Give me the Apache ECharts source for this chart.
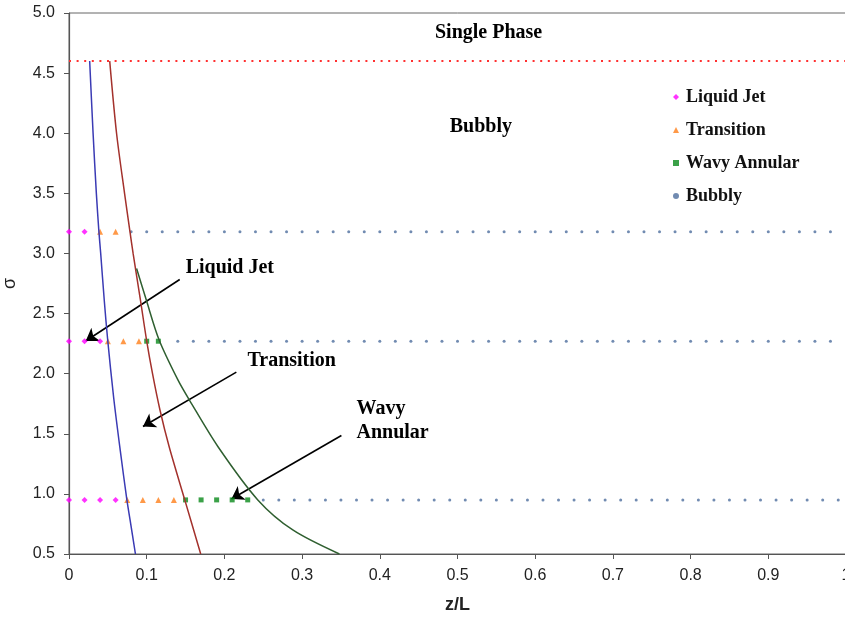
<!DOCTYPE html>
<html>
<head>
<meta charset="utf-8">
<script src="https://cdn.jsdelivr.net/npm/echarts@6/dist/echarts.min.js"></script>
<style>
  html, body { margin: 0; padding: 0; background: #fff; }
  #chart { width: 845px; height: 622px; }
</style>
</head>
<body>
<div id="chart"></div>
<script>
// boundary curves, [z/L, sigma]
const blueCurve = [[0.0266, 4.6], [0.031, 4.0], [0.0352, 3.5], [0.0385, 3.18], [0.0408, 3.0], [0.0455, 2.6], [0.0498, 2.28], [0.0575, 1.8], [0.066, 1.36], [0.0745, 0.95], [0.0787, 0.78], [0.0855, 0.5]]
const redCurve = [[0.0524, 4.6], [0.0612, 4.0], [0.0715, 3.5], [0.0785, 3.18], [0.0825, 3.0], [0.092, 2.61], [0.0998, 2.28], [0.1075, 2.0], [0.117, 1.7], [0.129, 1.39], [0.149, 0.95], [0.1695, 0.5]]
const greenCurve = [[0.087, 2.875], [0.0996, 2.61], [0.116, 2.28], [0.14, 1.95], [0.155, 1.78], [0.192, 1.39], [0.243, 0.95], [0.288, 0.70], [0.348, 0.5]]
const singlePhaseLine = [[0, 4.6], [1, 4.6]]

// observed regimes, [z/L, sigma]
const liquidJet = [[0, 3.18], [0.02, 3.18], [0, 2.27], [0.02, 2.27], [0.04, 2.27], [0, 0.95], [0.02, 0.95], [0.04, 0.95], [0.06, 0.95]]
const transition = [[0.04, 3.18], [0.06, 3.18], [0.05, 2.27], [0.07, 2.27], [0.09, 2.27], [0.075, 0.95], [0.095, 0.95], [0.115, 0.95], [0.135, 0.95]]
const wavyAnnular = [[0.10, 2.27], [0.115, 2.27], [0.15, 0.95], [0.17, 0.95], [0.19, 0.95], [0.21, 0.95], [0.23, 0.95]]
const bubblyX318 = [0.08, 0.10, 0.12, 0.14, 0.16, 0.18, 0.20, 0.22, 0.24, 0.26, 0.28, 0.30, 0.32, 0.34, 0.36, 0.38, 0.40, 0.42, 0.44, 0.46, 0.48, 0.50, 0.52, 0.54, 0.56, 0.58, 0.60, 0.62, 0.64, 0.66, 0.68, 0.70, 0.72, 0.74, 0.76, 0.78, 0.80, 0.82, 0.84, 0.86, 0.88, 0.90, 0.92, 0.94, 0.96, 0.98]
const bubblyX227 = [0.14, 0.16, 0.18, 0.20, 0.22, 0.24, 0.26, 0.28, 0.30, 0.32, 0.34, 0.36, 0.38, 0.40, 0.42, 0.44, 0.46, 0.48, 0.50, 0.52, 0.54, 0.56, 0.58, 0.60, 0.62, 0.64, 0.66, 0.68, 0.70, 0.72, 0.74, 0.76, 0.78, 0.80, 0.82, 0.84, 0.86, 0.88, 0.90, 0.92, 0.94, 0.96, 0.98]
const bubblyX095 = [0.25, 0.27, 0.29, 0.31, 0.33, 0.35, 0.37, 0.39, 0.41, 0.43, 0.45, 0.47, 0.49, 0.51, 0.53, 0.55, 0.57, 0.59, 0.61, 0.63, 0.65, 0.67, 0.69, 0.71, 0.73, 0.75, 0.77, 0.79, 0.81, 0.83, 0.85, 0.87, 0.89, 0.91, 0.93, 0.95, 0.97, 0.99]
const bubbly = bubblyX318.map(x => [x, 3.18])
  .concat(bubblyX227.map(x => [x, 2.27]))
  .concat(bubblyX095.map(x => [x, 0.95]))

// region notes and arrows
const noteText = ['Single Phase', 'Bubbly', 'Liquid Jet', 'Transition', 'Wavy', 'Annular']
const noteAt = [[0.540, 4.836], [0.530, 4.052], [0.207, 2.878], [0.2866, 2.104], [0.370, 1.711], [0.370, 1.511]]
const noteAlign = ['center', 'center', 'center', 'center', 'left', 'left']
const arrows = [
  [[0.1425, 2.783], [0.0215, 2.272]],
  [[0.2154, 2.013], [0.0952, 1.561]],
  [[0.3506, 1.486], [0.209, 0.958]]
]

const serif = '"Liberation Serif", "Times New Roman", serif'
const sans = '"Liberation Sans", Arial, sans-serif'

let myChart = echarts.init(document.getElementById('chart'))
myChart.setOption({
  animation: false,
  backgroundColor: '#fff',
  grid: {
    left: 69,
    top: 13,
    right: -1,
    bottom: 68,
    outerBoundsMode: 'none',
    containLabel: false,
    show: true,
    borderColor: '#666',
    borderWidth: 1
  },
  legend: {
    data: ['Liquid Jet', 'Transition', 'Wavy Annular', 'Bubbly'],
    orient: 'vertical',
    left: 668,
    top: 83,
    itemGap: 15,
    itemWidth: 6,
    itemHeight: 6,
    textStyle: {
      fontFamily: serif,
      fontWeight: 'bold',
      fontSize: 18,
      lineHeight: 18,
      padding: [0, 0, 0, 2],
      color: '#111'
    }
  },
  xAxis: {
    type: 'value',
    min: 0,
    max: 1,
    interval: 0.1,
    name: 'z/L',
    nameLocation: 'middle',
    nameGap: 42,
    nameTextStyle: { fontFamily: sans, fontWeight: 'bold', fontSize: 18, color: '#222' },
    axisLine: { lineStyle: { color: '#555', width: 1.2 } },
    axisTick: { show: true, length: 5, lineStyle: { color: '#555' } },
    axisLabel: { fontFamily: sans, fontSize: 16, color: '#222', margin: 14 },
    splitLine: { show: false }
  },
  yAxis: {
    type: 'value',
    min: 0.5,
    max: 5,
    interval: 0.5,
    name: 'σ',
    nameLocation: 'middle',
    nameGap: 50,
    nameTextStyle: { fontFamily: sans, fontSize: 18, color: '#222' },
    axisLine: { show: true, lineStyle: { color: '#555', width: 1.2 } },
    axisTick: { show: true, length: 5, lineStyle: { color: '#555' } },
    axisLabel: {
      fontFamily: sans,
      fontSize: 16,
      color: '#222',
      margin: 14,
      formatter: v => v.toFixed(1)
    },
    splitLine: { show: false }
  },
  series: [
    {
      name: 'Single Phase boundary',
      type: 'line',
      data: singlePhaseLine,
      showSymbol: false,
      silent: true,
      lineStyle: { color: '#ff3030', width: 2, type: [2, 5.6] }
    },
    {
      name: 'Liquid Jet limit',
      type: 'line',
      data: blueCurve,
      smooth: 0.3,
      showSymbol: false,
      silent: true,
      lineStyle: { color: '#3a3ab4', width: 1.5 }
    },
    {
      name: 'Transition limit',
      type: 'line',
      data: redCurve,
      smooth: 0.3,
      showSymbol: false,
      silent: true,
      lineStyle: { color: '#a3312c', width: 1.5 }
    },
    {
      name: 'Wavy Annular limit',
      type: 'line',
      data: greenCurve,
      smooth: 0.3,
      showSymbol: false,
      silent: true,
      lineStyle: { color: '#2f5f30', width: 1.5 }
    },
    {
      name: 'Bubbly',
      type: 'scatter',
      data: bubbly,
      symbol: 'circle',
      symbolSize: 3,
      itemStyle: { color: '#4d6e9e' }
    },
    {
      name: 'Liquid Jet',
      type: 'scatter',
      data: liquidJet,
      symbol: 'diamond',
      symbolSize: 6,
      itemStyle: { color: '#ff00ff' }
    },
    {
      name: 'Transition',
      type: 'scatter',
      data: transition,
      symbol: 'triangle',
      symbolSize: 6,
      itemStyle: { color: '#ff7f1a' }
    },
    {
      name: 'Wavy Annular',
      type: 'scatter',
      data: wavyAnnular,
      symbol: 'rect',
      symbolSize: 5,
      itemStyle: { color: '#0a8a1a' }
    },
    {
      name: 'arrows',
      type: 'lines',
      coordinateSystem: 'cartesian2d',
      silent: true,
      symbol: ['none', 'arrow'],
      symbolSize: 12,
      lineStyle: { color: '#000', width: 1.6, opacity: 1 },
      data: arrows.map(c => ({ coords: c }))
    },
    {
      name: 'notes',
      type: 'custom',
      silent: true,
      data: noteAt,
      renderItem: (params, api) => {
        const p = api.coord([api.value(0), api.value(1)])
        return {
          type: 'text',
          x: p[0],
          y: p[1],
          style: {
            text: noteText[params.dataIndex],
            align: noteAlign[params.dataIndex],
            verticalAlign: 'middle',
            font: 'bold 20px ' + serif,
            fill: '#000'
          }
        }
      }
    }
  ]
})
window.addEventListener('resize', () => { myChart.resize() })
</script>
</body>
</html>
